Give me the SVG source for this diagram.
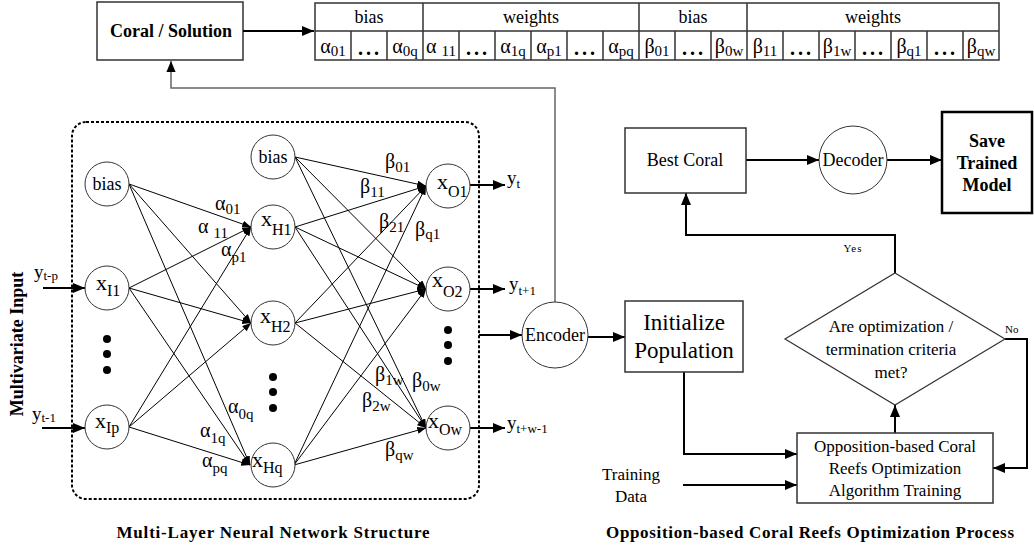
<svg xmlns="http://www.w3.org/2000/svg" width="1034" height="553" viewBox="0 0 1034 553">
<defs>
<style>
text{font-family:"Liberation Serif","Times New Roman",serif;fill:#000}
.b{font-weight:bold}
.c{text-anchor:middle}
.node circle{fill:#fff;stroke:#333;stroke-width:1}
.box{fill:#fff;stroke:#333;stroke-width:1.5}
.edge{stroke:#000;stroke-width:1;fill:none;marker-end:url(#ah)}
.flow{stroke:#000;stroke-width:2;fill:none;marker-end:url(#arr)}
.gl{font-size:20px}
.sb{font-size:15px}
.nl{font-size:22px}
.ns{font-size:16px}
.tbl{fill:none;stroke:#333;stroke-width:1.5}
.dots{font-size:20px;font-weight:bold;letter-spacing:3px}
</style>
<marker id="ah" viewBox="0 0 10 8" refX="10" refY="4" markerWidth="9" markerHeight="7" markerUnits="userSpaceOnUse" orient="auto"><path d="M0,0 L10,4 L0,8 z" fill="#000"/></marker>
<marker id="arr" viewBox="0 0 12 10" refX="12" refY="5" markerWidth="12" markerHeight="10" markerUnits="userSpaceOnUse" orient="auto"><path d="M0,0 L12,5 L0,10 z" fill="#000"/></marker>
<marker id="arrg" viewBox="0 0 12 10" refX="12" refY="5" markerWidth="11" markerHeight="10" markerUnits="userSpaceOnUse" orient="auto"><path d="M0,0 L12,5 L0,10 z" fill="#000"/></marker>
</defs>
<rect width="1034" height="553" fill="#fff"/>

<!-- Top: Coral / Solution and encoding table -->
<g id="coral-solution">
<rect class="box" x="97" y="2" width="146" height="58"/>
<text class="b c" x="171" y="37" font-size="18">Coral / Solution</text>
</g>
<g id="encoding-table">
<rect class="tbl" x="315" y="3" width="684" height="57"/>
<path class="tbl" d="M315,31H999 M423,3V60 M639,3V60 M747,3V60 M351,31V60 M387,31V60 M459,31V60 M495,31V60 M531,31V60 M567,31V60 M603,31V60 M675,31V60 M711,31V60 M783,31V60 M819,31V60 M855,31V60 M891,31V60 M927,31V60 M963,31V60"/>
<text class="c" x="369" y="23" font-size="18">bias</text>
<text class="c" x="531" y="23" font-size="18">weights</text>
<text class="c" x="693" y="23" font-size="18">bias</text>
<text class="c" x="873" y="23" font-size="18">weights</text>
<g class="gl">
<text class="c" x="333" y="53">α<tspan class="sb" dy="3">01</tspan></text>
<text class="c dots" x="370" y="55">...</text>
<text class="c" x="405" y="53">α<tspan class="sb" dy="3">0q</tspan></text>
<text class="c" x="441" y="53">α <tspan class="sb" dy="3">11</tspan></text>
<text class="c dots" x="478" y="55">...</text>
<text class="c" x="513" y="53">α<tspan class="sb" dy="3">1q</tspan></text>
<text class="c" x="549" y="53">α<tspan class="sb" dy="3">p1</tspan></text>
<text class="c dots" x="586" y="55">...</text>
<text class="c" x="621" y="53">α<tspan class="sb" dy="3">pq</tspan></text>
<text class="c" x="657" y="53">β<tspan class="sb" dy="3">01</tspan></text>
<text class="c dots" x="694" y="55">...</text>
<text class="c" x="729" y="53">β<tspan class="sb" dy="3">0w</tspan></text>
<text class="c" x="765" y="53">β<tspan class="sb" dy="3">11</tspan></text>
<text class="c dots" x="802" y="55">...</text>
<text class="c" x="837" y="53">β<tspan class="sb" dy="3">1w</tspan></text>
<text class="c dots" x="874" y="55">...</text>
<text class="c" x="909" y="53">β<tspan class="sb" dy="3">q1</tspan></text>
<text class="c dots" x="946" y="55">...</text>
<text class="c" x="981" y="53">β<tspan class="sb" dy="3">qw</tspan></text>
</g>
</g>

<!-- Neural network frame -->
<g id="nn-frame">
<rect x="72" y="122" width="407" height="377" rx="14" fill="none" stroke="#000" stroke-width="2" stroke-dasharray="3,2"/>
<text class="b" transform="translate(23,344) rotate(-90)" text-anchor="middle" font-size="18">Multivariate Input</text>
<text class="b c" x="273" y="538" font-size="17" textLength="313" lengthAdjust="spacing">Multi-Layer Neural Network Structure</text>
</g>

<!-- Connectors -->
<g id="connectors">
<g id="nn-edges">
<line class="edge" x1="129" y1="184" x2="251" y2="227"/>
<line class="edge" x1="129" y1="184" x2="251" y2="323"/>
<line class="edge" x1="129" y1="184" x2="250" y2="465"/>
<line class="edge" x1="129" y1="288" x2="251" y2="227"/>
<line class="edge" x1="129" y1="288" x2="251" y2="323"/>
<line class="edge" x1="129" y1="288" x2="250" y2="465"/>
<line class="edge" x1="129" y1="427" x2="251" y2="227"/>
<line class="edge" x1="129" y1="427" x2="251" y2="323"/>
<line class="edge" x1="129" y1="427" x2="250" y2="465"/>
<line class="edge" x1="295" y1="157" x2="426" y2="186"/>
<line class="edge" x1="295" y1="157" x2="426" y2="289"/>
<line class="edge" x1="295" y1="157" x2="426" y2="428"/>
<line class="edge" x1="295" y1="227" x2="426" y2="186"/>
<line class="edge" x1="295" y1="227" x2="426" y2="289"/>
<line class="edge" x1="295" y1="227" x2="426" y2="428"/>
<line class="edge" x1="295" y1="323" x2="426" y2="186"/>
<line class="edge" x1="295" y1="323" x2="426" y2="289"/>
<line class="edge" x1="295" y1="323" x2="426" y2="428"/>
<line class="edge" x1="294" y1="465" x2="426" y2="186"/>
<line class="edge" x1="294" y1="465" x2="426" y2="289"/>
<line class="edge" x1="294" y1="465" x2="426" y2="428"/>
</g>
<line class="flow" x1="43" y1="288" x2="85" y2="288"/>
<line class="flow" x1="42" y1="428" x2="85" y2="428"/>
<line class="flow" x1="470" y1="185" x2="505" y2="185"/>
<line class="flow" x1="470" y1="289" x2="505" y2="289"/>
<line class="flow" x1="470" y1="428" x2="505" y2="428"/>
<line class="flow" x1="479" y1="335" x2="522" y2="335"/>
<line class="flow" x1="243" y1="31" x2="314" y2="31"/>
<path d="M555,302 V88 H171 V61" fill="none" stroke="#666" stroke-width="1.5" marker-end="url(#arrg)"/>
<line class="flow" x1="588" y1="337" x2="625" y2="337"/>
<path class="flow" d="M684,372 V454 H797"/>
<line class="flow" stroke-width="1.5" x1="683" y1="485" x2="797" y2="485"/>
<line class="flow" x1="895" y1="433" x2="895" y2="405"/>
<path class="flow" d="M1005,339 H1027 V468 H993"/>
<path class="flow" stroke-width="2.5" d="M895,273 V235 H686 V193"/>
<line class="flow" x1="746" y1="160" x2="819" y2="160"/>
<line class="flow" x1="887" y1="160" x2="942" y2="160"/>
</g>

<!-- NN weight labels -->
<g id="weight-labels" class="gl">
<text x="215" y="210">α<tspan class="sb" dy="4">01</tspan></text>
<text x="198" y="233">α <tspan class="sb" dy="5">11</tspan></text>
<text x="221" y="256">α<tspan class="sb" dy="6">p1</tspan></text>
<text x="228" y="413">α<tspan class="sb" dy="6">0q</tspan></text>
<text x="200" y="437">α<tspan class="sb" dy="6">1q</tspan></text>
<text x="202" y="467">α<tspan class="sb" dy="6">pq</tspan></text>
<text x="385" y="168">β<tspan class="sb" dy="4">01</tspan></text>
<text x="360" y="193">β<tspan class="sb" dy="4">11</tspan></text>
<text x="379" y="228">β<tspan class="sb" dy="4">21</tspan></text>
<text x="415" y="236">β<tspan class="sb" dy="3">q1</tspan></text>
<text x="375" y="381">β<tspan class="sb" dy="4">1w</tspan></text>
<text x="412" y="387">β<tspan class="sb" dy="4">0w</tspan></text>
<text x="362" y="407">β<tspan class="sb" dy="4">2w</tspan></text>
<text x="385" y="456">β<tspan class="sb" dy="4">qw</tspan></text>
</g>

<!-- IO labels -->
<g id="io-labels">
<text x="34" y="278" font-size="19">y<tspan font-size="13" dy="2">t-p</tspan></text>
<text x="32" y="420" font-size="19">y<tspan font-size="13" dy="2">t-1</tspan></text>
<text x="507" y="184" font-size="19">y<tspan font-size="13" dy="4">t</tspan></text>
<text x="509" y="290" font-size="19">y<tspan font-size="13" dy="5">t+1</tspan></text>
<text x="507" y="429" font-size="19">y<tspan font-size="13" dy="4">t+w-1</tspan></text>
</g>

<!-- Input layer -->
<g id="in-bias" class="node"><circle cx="107" cy="184" r="22"/><text class="c" x="107" y="190" font-size="18">bias</text></g>
<g id="x-I1" class="node"><circle cx="107" cy="288" r="22"/><text class="nl" x="96" y="290">x<tspan class="ns" dy="6">I1</tspan></text></g>
<g id="in-dots"><circle cx="107" cy="339" r="4"/><circle cx="107" cy="354" r="4"/><circle cx="107" cy="370" r="4"/></g>
<g id="x-Ip" class="node"><circle cx="107" cy="427" r="22"/><text class="nl" x="95" y="428">x<tspan class="ns" dy="5">Ip</tspan></text></g>

<!-- Hidden layer -->
<g id="hid-bias" class="node"><circle cx="273" cy="157" r="22"/><text class="c" x="273" y="163" font-size="18">bias</text></g>
<g id="x-H1" class="node"><circle cx="273" cy="227" r="22"/><text class="nl" x="261" y="226">x<tspan class="ns" dy="9">H1</tspan></text></g>
<g id="x-H2" class="node"><circle cx="273" cy="323" r="22"/><text class="nl" x="260" y="323">x<tspan class="ns" dy="9">H2</tspan></text></g>
<g id="hid-dots"><circle cx="273" cy="377" r="4"/><circle cx="273" cy="392" r="4"/><circle cx="273" cy="408" r="4"/></g>
<g id="x-Hq" class="node"><circle cx="273" cy="465" r="22"/><text class="nl" x="252" y="467">x<tspan class="ns" dy="6">Hq</tspan></text></g>

<!-- Output layer -->
<g id="x-O1" class="node"><circle cx="448" cy="186" r="22"/><text class="nl" x="437" y="189">x<tspan class="ns" dy="8">O1</tspan></text></g>
<g id="x-O2" class="node"><circle cx="448" cy="289" r="22"/><text class="nl" x="432" y="287">x<tspan class="ns" dy="10">O2</tspan></text></g>
<g id="out-dots"><circle cx="448" cy="330" r="4"/><circle cx="448" cy="345" r="4"/><circle cx="448" cy="361" r="4"/></g>
<g id="x-Ow" class="node"><circle cx="448" cy="428" r="22"/><text class="nl" x="428" y="428">x<tspan class="ns" dy="7">Ow</tspan></text></g>

<!-- Encoder / flowchart -->
<g id="encoder" class="node"><circle cx="555" cy="335" r="33"/><text class="c" x="555" y="341" font-size="18">Encoder</text></g>
<g id="init-pop"><rect class="box" x="625" y="301" width="118" height="71"/>
<text class="c" x="684" y="330" font-size="23">Initialize</text>
<text class="c" x="684" y="358" font-size="23">Population</text></g>
<g id="training-data"><text class="c" x="631" y="480" font-size="17">Training</text><text class="c" x="631" y="502" font-size="17">Data</text></g>
<g id="ocro-training"><rect class="box" x="797" y="433" width="196" height="70"/>
<text class="c" x="895" y="452" font-size="17">Opposition-based Coral</text>
<text class="c" x="895" y="474" font-size="17">Reefs Optimization</text>
<text class="c" x="895" y="496" font-size="17">Algorithm Training</text></g>
<g id="criteria"><polygon points="895,273 1005,339 895,405 785,339" fill="#fff" stroke="#333" stroke-width="1.2"/>
<text class="c" x="891" y="332" font-size="17">Are optimization /</text>
<text class="c" x="891" y="355" font-size="17">termination criteria</text>
<text class="c" x="891" y="378" font-size="17">met?</text></g>
<text x="1005" y="333" font-size="11">No</text>
<text class="c" x="853" y="252" font-size="11" letter-spacing="1">Yes</text>
<g id="best-coral"><rect class="box" x="625" y="128" width="121" height="65"/><text class="c" x="685" y="166" font-size="18">Best Coral</text></g>
<g id="decoder" class="node"><circle cx="853" cy="160" r="34"/><text class="c" x="853" y="166" font-size="18">Decoder</text></g>
<g id="save-model"><rect x="942" y="112" width="90" height="101" fill="#fff" stroke="#000" stroke-width="2.5"/>
<text class="b c" x="987" y="147" font-size="18">Save</text>
<text class="b c" x="987" y="169" font-size="18">Trained</text>
<text class="b c" x="987" y="191" font-size="18">Model</text></g>
<text class="b c" x="810" y="538" font-size="17" textLength="408" lengthAdjust="spacing">Opposition-based Coral Reefs Optimization Process</text>
</svg>
